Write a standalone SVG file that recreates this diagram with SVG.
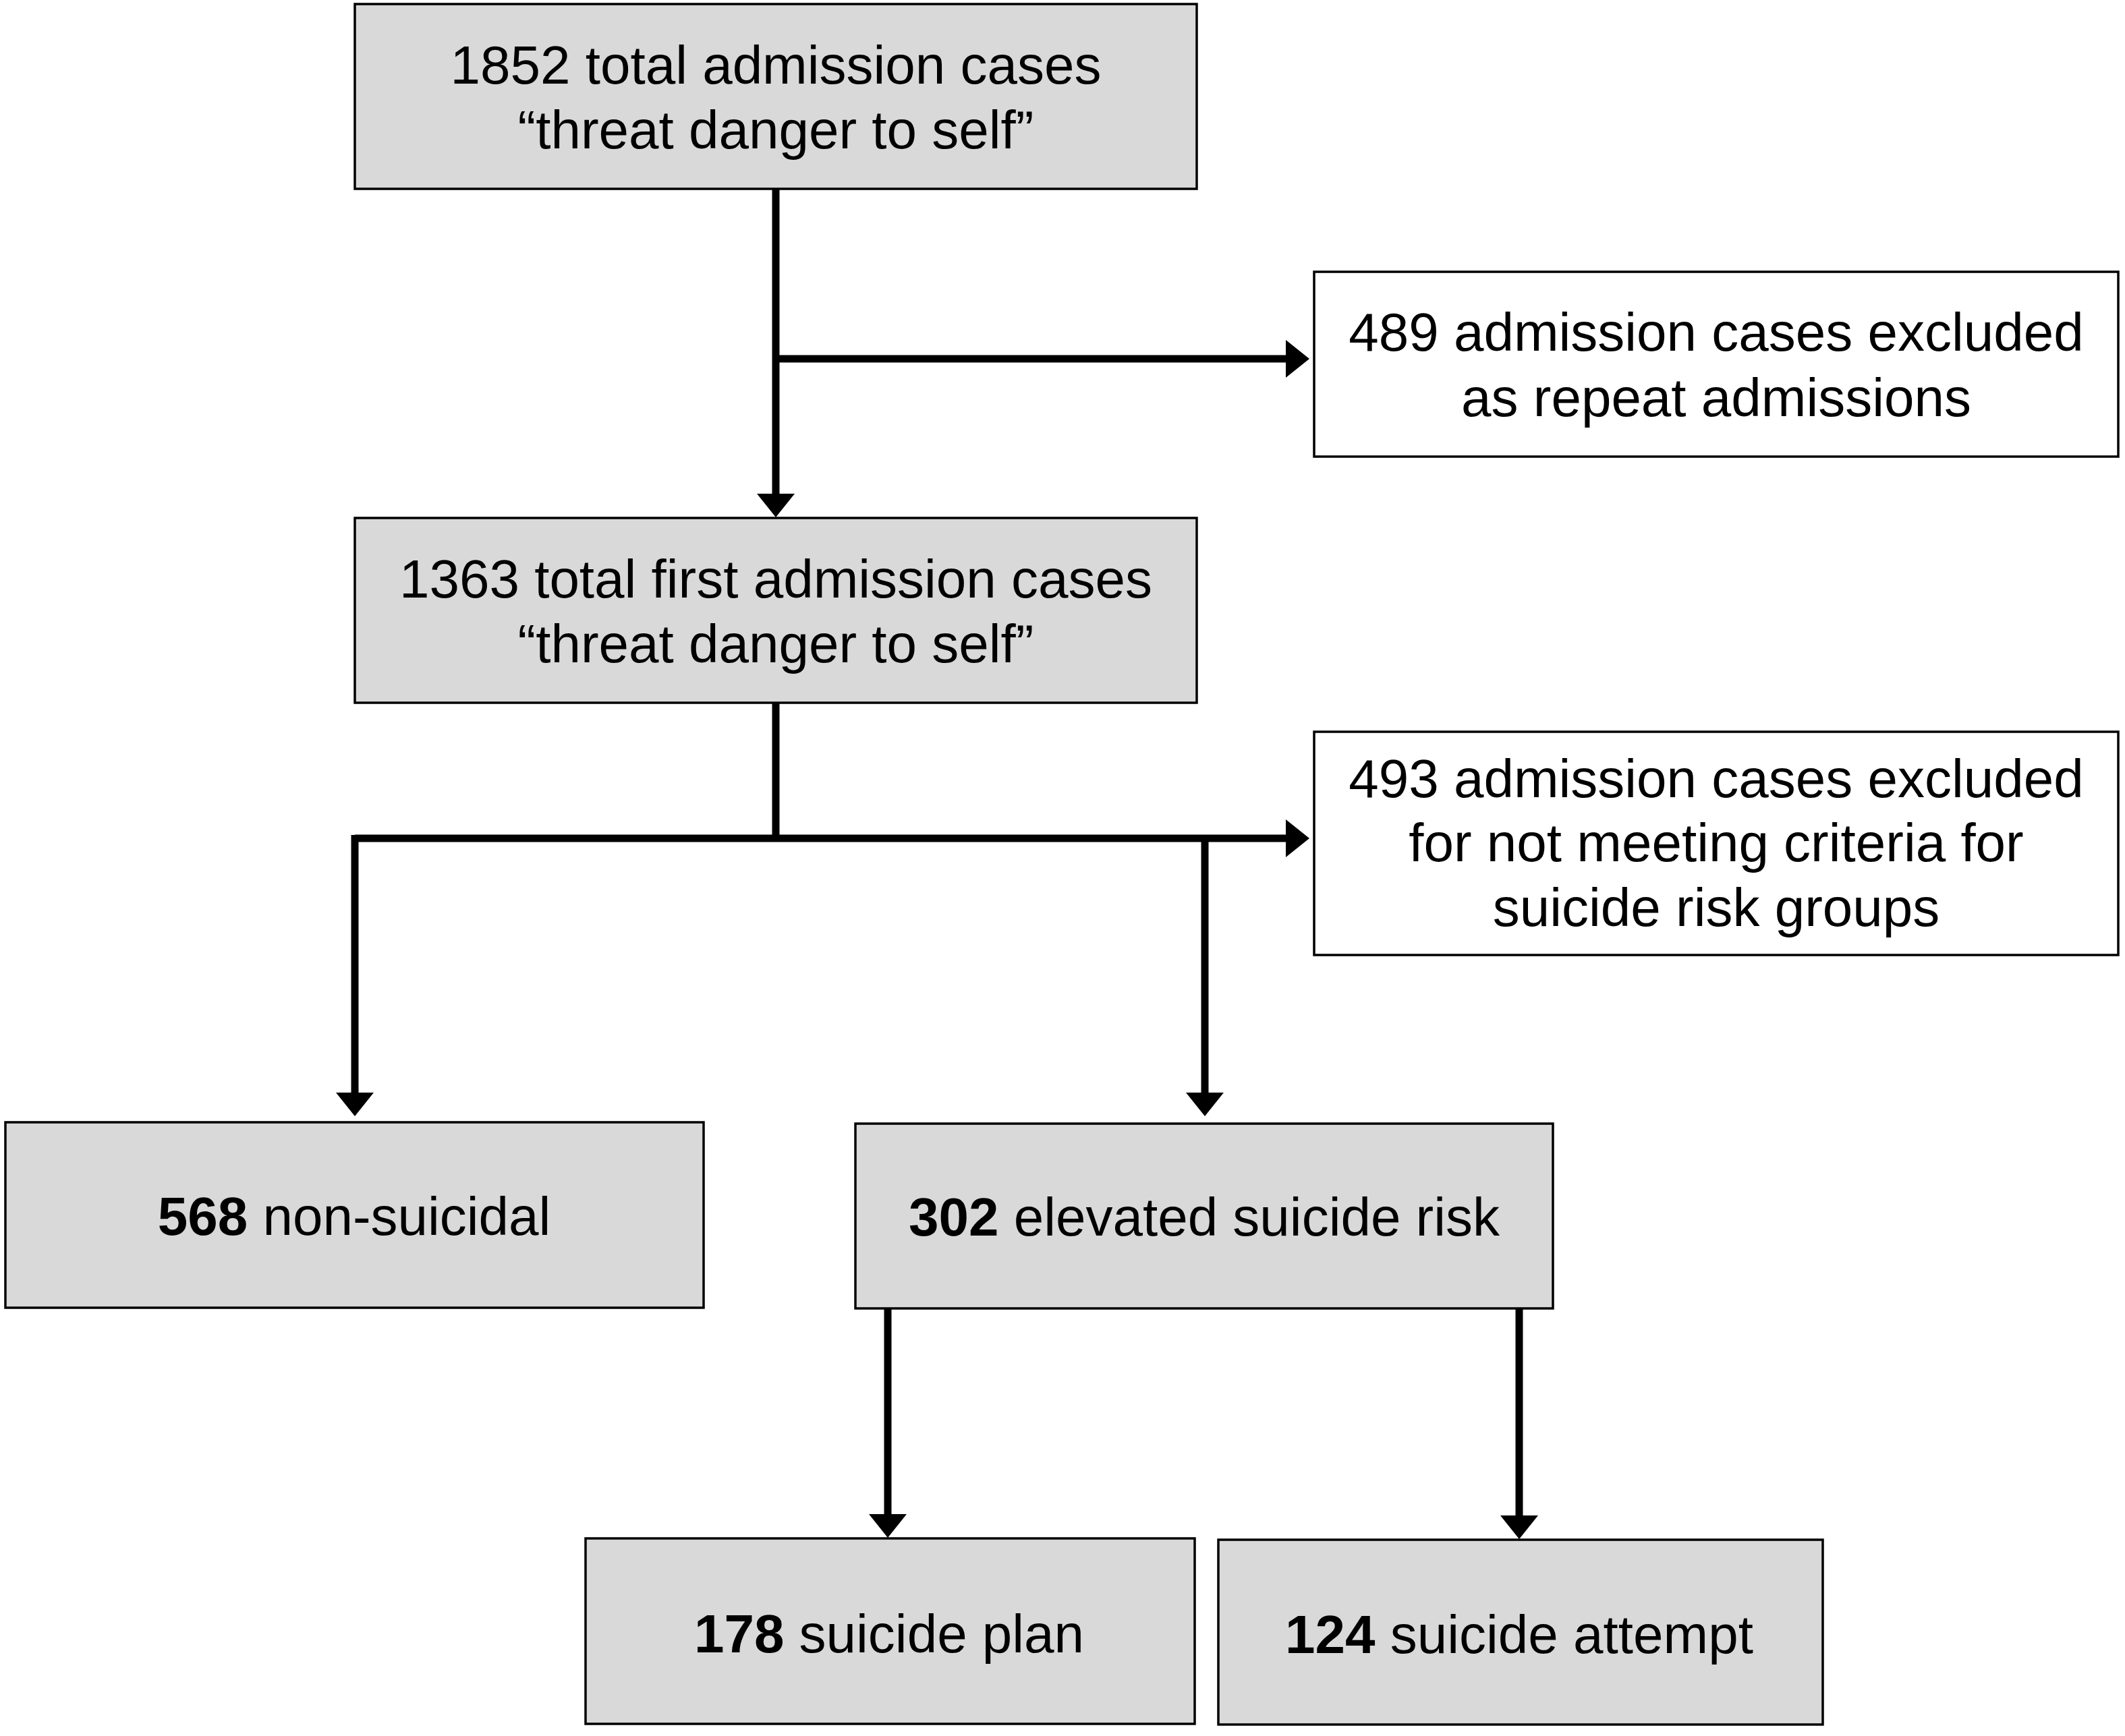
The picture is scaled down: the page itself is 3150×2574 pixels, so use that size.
<svg xmlns="http://www.w3.org/2000/svg" width="3150" height="2574" viewBox="0 0 3150 2574">
<style>
.box{stroke:#000;stroke-width:3.5}
.g{fill:#d9d9d9}
.w{fill:#fff}
text{font-family:"Liberation Sans",Arial,Helvetica,sans-serif;font-size:80px;fill:#000;text-anchor:middle}
.b{font-weight:bold}
.ln{fill:none;stroke:#000;stroke-width:11;stroke-linecap:butt;stroke-linejoin:miter}
</style>
<defs>
<marker id="ah" viewBox="0 0 35 56" refX="15" refY="28" markerWidth="35" markerHeight="56" markerUnits="userSpaceOnUse" orient="auto">
<path d="M0,0 L35,28 L0,56 Z" fill="#000"/>
</marker>
</defs>
<rect width="3150" height="2574" fill="#fff"/>
<g id="connectors">
<path class="ln" d="M1150,281 V747" marker-end="url(#ah)"/>
<path class="ln" d="M1150,532 H1921" marker-end="url(#ah)"/>
<path class="ln" d="M1150,1042 V1243"/>
<path class="ln" d="M526,1243 H1921" marker-end="url(#ah)"/>
<path class="ln" d="M526,1238 V1635" marker-end="url(#ah)"/>
<path class="ln" d="M1786,1243 V1635" marker-end="url(#ah)"/>
<path class="ln" d="M1316,1940 V2260" marker-end="url(#ah)"/>
<path class="ln" d="M2252,1940 V2262" marker-end="url(#ah)"/>
</g>
<g id="n1">
<rect class="box g" x="526" y="6" width="1248" height="274"/>
<text x="1150" y="124">1852 total admission cases</text>
<text x="1150" y="220">“threat danger to self”</text>
</g>
<g id="n2">
<rect class="box w" x="1948" y="403" width="1192" height="274"/>
<text x="2544" y="520">489 admission cases excluded</text>
<text x="2544" y="617">as repeat admissions</text>
</g>
<g id="n3">
<rect class="box g" x="526" y="768" width="1248" height="274"/>
<text x="1150" y="886">1363 total first admission cases</text>
<text x="1150" y="982">“threat danger to self”</text>
</g>
<g id="n4">
<rect class="box w" x="1948" y="1085" width="1192" height="331"/>
<text x="2544" y="1182">493 admission cases excluded</text>
<text x="2544" y="1277">for not meeting criteria for</text>
<text x="2544" y="1373">suicide risk groups</text>
</g>
<g id="n5">
<rect class="box g" x="8" y="1664" width="1035" height="275"/>
<text x="525" y="1831"><tspan class="b">568</tspan> non-suicidal</text>
</g>
<g id="n6">
<rect class="box g" x="1268" y="1666" width="1034" height="274"/>
<text x="1785" y="1832"><tspan class="b">302</tspan> elevated suicide risk</text>
</g>
<g id="n7">
<rect class="box g" x="868" y="2281" width="903" height="275"/>
<text x="1318" y="2450"><tspan class="b">178</tspan> suicide plan</text>
</g>
<g id="n8">
<rect class="box g" x="1806" y="2283" width="896" height="274"/>
<text x="2252" y="2451"><tspan class="b">124</tspan> suicide attempt</text>
</g>
</svg>
